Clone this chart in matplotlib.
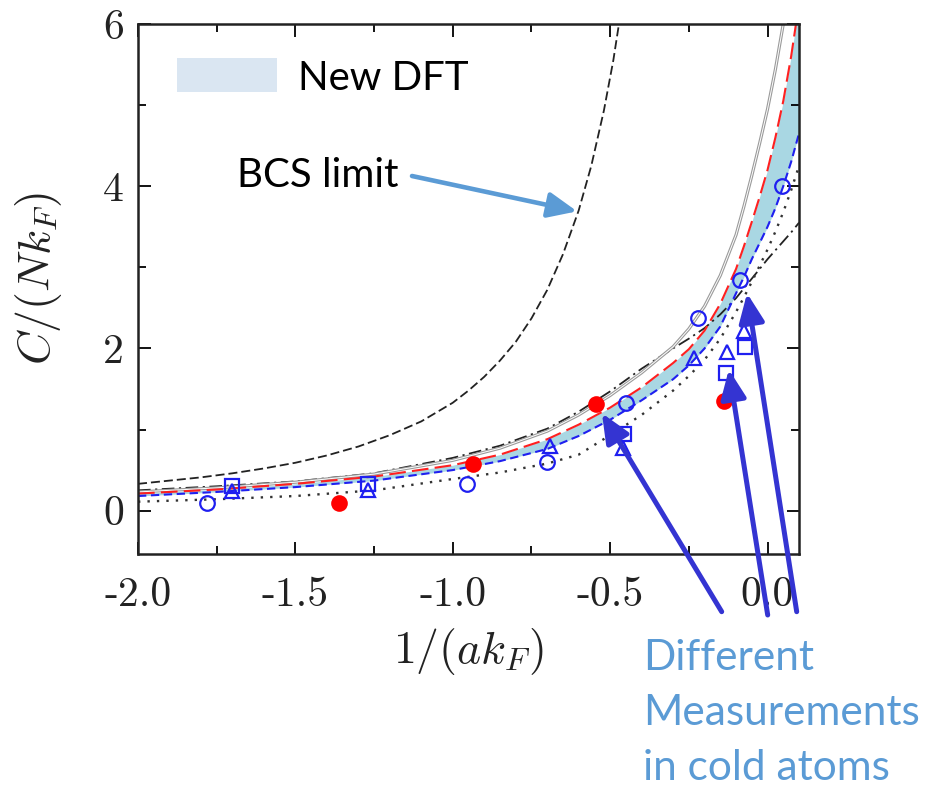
import numpy as np
import matplotlib.pyplot as plt
from matplotlib.patches import Rectangle
from matplotlib.ticker import MultipleLocator

plt.rcParams['mathtext.fontset'] = 'cm'

# BCS (weak coupling) limit
x_bcs = [-2.0, -1.9, -1.8, -1.7, -1.6, -1.5, -1.4, -1.3, -1.2, -1.1, -1.0, -0.95, -0.9,
         -0.85, -0.8, -0.75, -0.7, -0.65, -0.6, -0.56, -0.52, -0.49, -0.46]
c_bcs = [0.33, 0.37, 0.41, 0.46, 0.52, 0.59, 0.68, 0.79, 0.93, 1.10, 1.33, 1.48, 1.65,
         1.85, 2.08, 2.37, 2.72, 3.16, 3.70, 4.25, 4.93, 5.55, 6.30]

# theory curves, all on the same grid
x_th = [-2.0, -1.75, -1.5, -1.25, -1.0, -0.85, -0.7, -0.6, -0.5, -0.4, -0.3, -0.25,
        -0.2, -0.15, -0.1, -0.075, -0.05, -0.025, 0.0, 0.025, 0.05, 0.075, 0.1]
c_dashdot = [0.25, 0.30, 0.36, 0.46, 0.65, 0.80, 1.01, 1.22, 1.47, 1.75, 2.00, 2.12,
             2.25, 2.42, 2.62, 2.74, 2.86, 2.98, 3.10, 3.21, 3.32, 3.43, 3.55]
c_gray = [0.23, 0.28, 0.35, 0.45, 0.62, 0.77, 0.98, 1.18, 1.42, 1.70, 2.02, 2.24,
          2.52, 2.90, 3.40, 3.75, 4.13, 4.53, 4.95, 5.44, 6.00, 6.60, 7.20]
c_red = [0.21, 0.26, 0.33, 0.42, 0.56, 0.69, 0.88, 1.06, 1.27, 1.52, 1.82, 1.99,
         2.22, 2.55, 2.98, 3.26, 3.56, 3.87, 4.20, 4.60, 5.05, 5.60, 6.25]
c_blue = [0.18, 0.23, 0.29, 0.37, 0.50, 0.61, 0.76, 0.92, 1.12, 1.36, 1.62, 1.79,
          2.00, 2.27, 2.68, 2.88, 3.10, 3.30, 3.50, 3.73, 4.00, 4.30, 4.65]
c_dotted = [0.11, 0.14, 0.18, 0.25, 0.39, 0.47, 0.58, 0.69, 0.93, 1.18, 1.48, 1.66,
            1.86, 2.12, 2.45, 2.63, 2.82, 3.02, 3.22, 3.44, 3.68, 3.95, 4.25]

# cold atom measurements
circ_x = [-1.78, -0.955, -0.70, -0.45, -0.222, -0.087, 0.047]
circ_y = [0.10, 0.33, 0.60, 1.33, 2.38, 2.84, 4.00]
sq_x = [-1.70, -1.27, -0.455, -0.133, -0.072]
sq_y = [0.30, 0.33, 0.95, 1.70, 2.02]
tri_x = [-1.70, -1.27, -0.69, -0.46, -0.233, -0.13, -0.075]
tri_y = [0.24, 0.26, 0.80, 0.77, 1.88, 1.95, 2.22]
red_x = [-1.362, -0.937, -0.545, -0.137]
red_y = [0.10, 0.57, 1.32, 1.35]

xticks = [-2.0, -1.5, -1.0, -0.5, 0.0]
xtick_labels = ['-2.0', '-1.5', '-1.0', '-0.5', '0.0']
yticks = [0, 2, 4, 6]
ytick_labels = ['0', '2', '4', '6']

W, H = 950, 787
fig = plt.figure(figsize=(W / 100, H / 100), dpi=100)
ax = fig.add_axes([138 / W, 1 - 554 / H, 661 / W, 530 / H])

blue = '#1f1ff0'

ax.fill_between(x_th, c_blue, c_red, color='#a9d7e3', lw=0, zorder=1)
ax.plot(x_bcs, c_bcs, color='#222222', lw=1.3, dashes=(5, 2.2), zorder=2)
ax.plot(x_th, c_dashdot, color='#222222', lw=1.3, dashes=(7, 2.5, 1.2, 2.5), zorder=2)
ax.plot(x_th, c_gray, color='#9a9a9a', lw=2.3, zorder=2)
ax.plot(x_th, c_gray, color='white', lw=0.7, zorder=2)
ax.plot(x_th, c_red, color='#ff2020', lw=1.5, dashes=(8, 3), zorder=2)
ax.plot(x_th, c_blue, color=blue, lw=1.5, dashes=(4, 2.2), zorder=2)
ax.plot(x_th, c_dotted, color='#333333', lw=1.7, dashes=(1, 3), zorder=2)

ax.plot(circ_x, circ_y, 'o', ms=10.5, mfc='none', mec=blue, mew=1.6, zorder=3)
ax.plot(sq_x, sq_y, 's', ms=10, mfc='none', mec=blue, mew=1.6, zorder=3)
ax.plot(tri_x, tri_y, '^', ms=9.5, mfc='none', mec=blue, mew=1.6, zorder=3)
ax.plot(red_x, red_y, 'o', ms=12, color='#ff0000', mec='none', zorder=3)

ax.set_xlim(-2.0, 0.1)
ax.set_ylim(-0.535, 6.0)

ax.set_xticks(xticks)
ax.set_xticklabels(xtick_labels, fontfamily='cmr10', fontsize=30, color='#222222')
ax.set_yticks(yticks)
ax.set_yticklabels(ytick_labels, fontfamily='cmr10', fontsize=30, color='#222222')
ax.xaxis.set_minor_locator(MultipleLocator(0.25))
ax.yaxis.set_minor_locator(MultipleLocator(1))
ax.tick_params(which='both', direction='in', top=True, right=True, width=1.3)
ax.tick_params(which='major', length=9)
ax.tick_params(which='minor', length=5.5)
ax.tick_params(axis='x', pad=16)
ax.tick_params(axis='y', pad=10)
for s in ax.spines.values():
    s.set_linewidth(1.8)
    s.set_color('#222222')

ax.set_xlabel(r'$1/(ak_F)$', fontsize=33, color='#222222')
ax.set_ylabel(r'$C/(Nk_F)$', fontsize=33, color='#222222')
ax.xaxis.set_label_coords(0.5, -0.135)
ax.yaxis.set_label_coords(-0.112, 0.52)

# legend box and annotations
fig.patches.append(Rectangle((176.7 / W, 1 - 92 / H), 100 / W, 34 / H,
                             transform=fig.transFigure, color='#dae6f2', lw=0))
fig.text(298 / W, 1 - 90 / H, 'New DFT', fontsize=29, family='Lato', va='baseline')
fig.text(237 / W, 1 - 187 / H, 'BCS limit', fontsize=29, family='Lato', va='baseline')
ax.annotate('', xy=(-0.605, 3.69), xycoords='data',
            xytext=(412 / W, 1 - 176 / H), textcoords='figure fraction',
            arrowprops=dict(arrowstyle='-|>,head_length=0.8,head_width=0.35',
                            mutation_scale=22, lw=3.3, color='#5b9bd5',
                            shrinkA=0, shrinkB=0))

for i, line in enumerate(['Different', 'Measurements', 'in cold atoms']):
    fig.text(643 / W, 1 - (670 + 55 * i) / H, line, fontsize=30.5,
             family='Lato', color='#5b9bd5', va='baseline')

tips = [(-0.526, 1.20), (-0.123, 1.74), (-0.065, 2.68)]
tails = [(721.7, 611.7), (767.7, 615), (796.7, 611.7)]
for (tx, ty), (px, py) in zip(tips, tails):
    ax.annotate('', xy=(tx, ty), xycoords='data',
                xytext=(px / W, 1 - py / H), textcoords='figure fraction',
                arrowprops=dict(arrowstyle='-|>,head_length=0.8,head_width=0.35',
                                mutation_scale=22, lw=3.6, color='#3434d2',
                                shrinkA=0, shrinkB=0),
                annotation_clip=False)

fig.savefig('out.png', dpi=100)
